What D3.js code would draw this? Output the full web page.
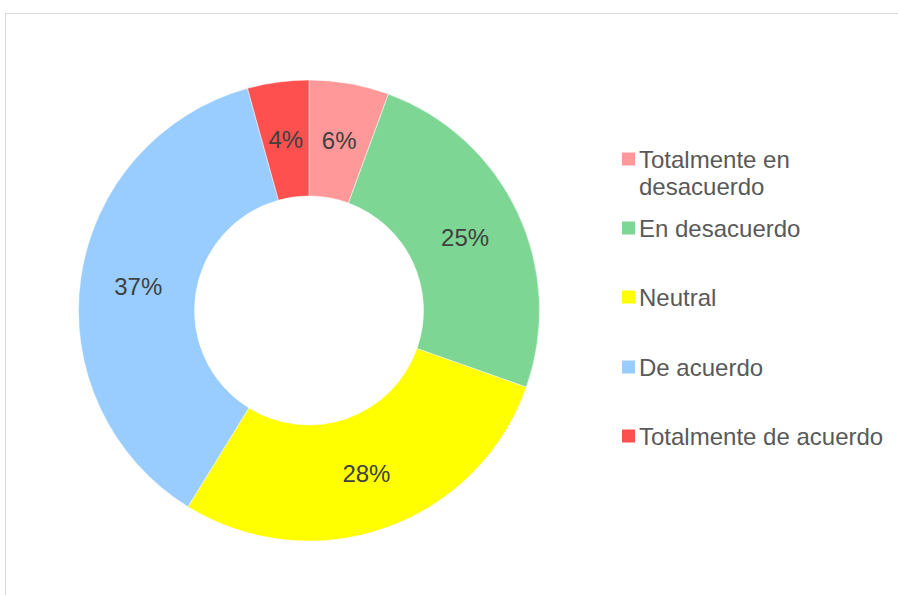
<!DOCTYPE html>
<meta charset="utf-8">
<head>
    <title>Donut</title>
    <script src="https://cdn.jsdelivr.net/npm/d3@7"></script>
    <style>
        body { margin: 0; background: #fff; }
        text { font-family: "Liberation Sans", Arial, sans-serif; }
    </style>
</head>
<body>
<div id="chart"></div>
<script>
// data
var categories = ["Totalmente en desacuerdo", "En desacuerdo", "Neutral", "De acuerdo", "Totalmente de acuerdo"];
var legendLines = [["Totalmente en", "desacuerdo"], ["En desacuerdo"], ["Neutral"], ["De acuerdo"], ["Totalmente de acuerdo"]];
var values = [5.6, 24.8, 28.4, 36.9, 4.3];
var colors = ["#ff9999", "#7dd694", "#ffff00", "#99ccff", "#ff5050"];

var w = 898, h = 595;
var svg = d3.select("#chart").append("svg")
    .attr("width", w).attr("height", h);

// chart area border
svg.append("rect")
    .attr("x", 5.5).attr("y", 13.5)
    .attr("width", w + 10).attr("height", h + 10)
    .attr("fill", "none").attr("stroke", "#d9d9d9").attr("stroke-width", 1);

var cx = 309, cy = 310.5;
var outerR = 230.5, innerR = 114.5;

var pie = d3.pie().sort(null).value(function(d) { return d; });
var arc = d3.arc().innerRadius(innerR).outerRadius(outerR);
var labelArc = d3.arc().innerRadius((innerR + outerR) / 2).outerRadius((innerR + outerR) / 2);

var total = d3.sum(values);
var g = svg.append("g").attr("transform", "translate(" + cx + "," + cy + ")");

var arcs = pie(values);
g.selectAll("path")
    .data(arcs)
    .enter().append("path")
    .attr("d", arc)
    .attr("fill", function(d, i) { return colors[i]; })
    .attr("stroke", "#fff")
    .attr("stroke-width", 0.5);

g.selectAll("text.lbl")
    .data(arcs)
    .enter().append("text")
    .attr("class", "lbl")
    .attr("x", function(d) { return labelArc.centroid(d)[0]; })
    .attr("y", function(d) { return labelArc.centroid(d)[1] + 8.5; })
    .attr("text-anchor", "middle")
    .attr("font-size", "24px")
    .attr("fill", "#404040")
    .text(function(d) { return Math.round(d.value / total * 100) + "%"; });

// legend
var legendY = [159, 228, 297, 367, 436];
var legend = svg.append("g");
var items = legend.selectAll("g")
    .data(categories)
    .enter().append("g")
    .attr("transform", function(d, i) { return "translate(622," + legendY[i] + ")"; });

items.append("rect")
    .attr("x", 0).attr("y", -6.5)
    .attr("width", 13).attr("height", 13)
    .attr("fill", function(d, i) { return colors[i]; });

items.append("text")
    .attr("x", 17)
    .attr("y", 8.5)
    .attr("font-size", "24px")
    .attr("fill", "#595959")
    .selectAll("tspan")
    .data(function(d, i) { return legendLines[i]; })
    .enter().append("tspan")
    .attr("x", 17)
    .attr("dy", function(d, j) { return j === 0 ? 0 : 27; })
    .text(function(d) { return d; });
</script>
</body>
</html>
